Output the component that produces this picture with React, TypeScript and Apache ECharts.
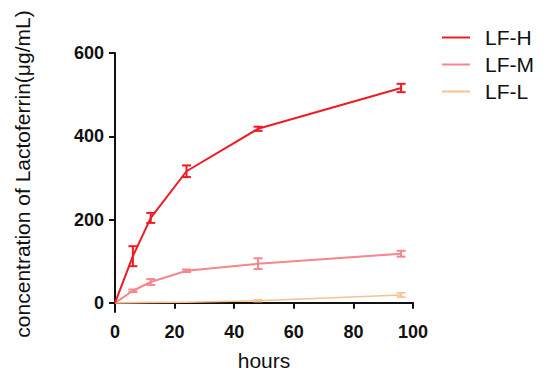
import React, { useEffect, useRef } from "react";
import * as echarts from "echarts";

const hours = [0, 6, 12, 24, 48, 96];
const lfH = [0, 112, 204, 316, 418, 516];
const lfHErr = [0, 24, 12, 14, 5, 10];
const lfM = [0, 29, 50, 77, 94, 118];
const lfMErr = [0, 3, 7, 3, 13, 7];
const lfL = [0, 0.5, 1, 1.5, 5, 19];
const lfLErr = [0, 0, 0, 0, 2, 5];
const yTicks = [0, 200, 400, 600];
const seriesNames = ["LF-H", "LF-M", "LF-L"];
const colors = ["#ed1c24", "#f5868b", "#f9bf8e"];

const FONT = "'Liberation Sans', Arial, sans-serif";

function lineData(vals: number[]) {
  return hours.map((h, i) => [h, vals[i]]);
}
function errData(vals: number[], errs: number[]) {
  return hours.map((h, i) => [h, vals[i] - errs[i], vals[i] + errs[i]]);
}

function errSeries(name: string, color: string, vals: number[], errs: number[], width: number) {
  return {
    type: "custom",
    name,
    coordinateSystem: "cartesian2d",
    encode: { x: 0, y: [1, 2] },
    data: errData(vals, errs),
    z: 3,
    renderItem: (params: any, api: any) => {
      const x = api.value(0);
      const lo = api.coord([x, api.value(1)]);
      const hi = api.coord([x, api.value(2)]);
      const hw = 4.5;
      const style = { stroke: color, lineWidth: width, fill: "none" };
      if (Math.abs(hi[1] - lo[1]) < 0.5) return { type: "group", children: [] };
      return {
        type: "group",
        children: [
          { type: "line", shape: { x1: lo[0], y1: lo[1], x2: hi[0], y2: hi[1] }, style },
          { type: "line", shape: { x1: lo[0] - hw, y1: lo[1], x2: lo[0] + hw, y2: lo[1] }, style },
          { type: "line", shape: { x1: hi[0] - hw, y1: hi[1], x2: hi[0] + hw, y2: hi[1] }, style },
        ],
      };
    },
  };
}

export default function App() {
  const ref = useRef<HTMLDivElement>(null);
  useEffect(() => {
    document.body.style.margin = "0";
    const chart = echarts.init(ref.current!, null, { renderer: "svg" });
    const vals = [lfH, lfM, lfL];
    const errs = [lfHErr, lfMErr, lfLErr];
    const widths = [2, 2, 1.6];
    chart.setOption({
      animation: false,
      backgroundColor: "#ffffff",
      textStyle: { fontFamily: FONT },
      grid: { left: 115, right: 137, top: 53, bottom: 74, containLabel: false },
      legend: {
        data: seriesNames,
        orient: "vertical",
        left: 437,
        top: 22,
        icon: "rect",
        itemWidth: 28,
        itemHeight: 2,
        itemGap: 6,
        textStyle: { fontSize: 21, lineHeight: 20, color: "#111", fontFamily: FONT, padding: [0, 0, 0, 10] },
      },
      xAxis: {
        type: "value",
        min: 0,
        max: 100,
        interval: 20,
        name: "hours",
        nameLocation: "middle",
        nameGap: 38,
        nameTextStyle: { fontSize: 21, color: "#111", fontFamily: FONT },
        splitLine: { show: false },
        axisLine: { lineStyle: { color: "#111", width: 2 } },
        axisTick: { length: 6, lineStyle: { color: "#111", width: 2 } },
        axisLabel: { fontSize: 18, fontWeight: "bold", color: "#111", margin: 11, fontFamily: FONT },
      },
      yAxis: {
        type: "value",
        min: -22,
        max: 600,
        splitLine: { show: false },
        axisLine: { show: true, lineStyle: { color: "#111", width: 2 } },
        axisTick: { show: true, length: 6, customValues: yTicks, lineStyle: { color: "#111", width: 2 } },
        axisLabel: { customValues: yTicks, fontSize: 18, fontWeight: "bold", color: "#111", margin: 11, fontFamily: FONT },
      },
      graphic: [
        {
          type: "text",
          x: 22,
          y: 174,
          rotation: Math.PI / 2,
          style: {
            text: "concentration of Lactoferrin(μg/mL)",
            fontSize: 21,
            fontFamily: FONT,
            fill: "#111",
            align: "center",
            verticalAlign: "middle",
          },
        },
      ],
      series: [
        ...seriesNames.map((n, i) => ({
          type: "line",
          name: n,
          data: lineData(vals[i]),
          symbol: "none",
          color: colors[i],
          lineStyle: { color: colors[i], width: widths[i] },
          z: 4 - i,
        })),
        ...seriesNames.map((n, i) => errSeries(n + " err", colors[i], vals[i], errs[i], widths[i])),
      ],
    });
    return () => chart.dispose();
  }, []);
  return <div ref={ref} style={{ width: 550, height: 386 }} />;
}
